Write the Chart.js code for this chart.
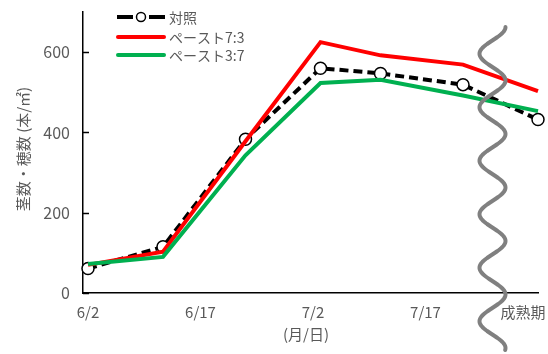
<!DOCTYPE html>
<html>
<head>
<meta charset="utf-8">
<script src="https://cdn.jsdelivr.net/npm/chart.js@4/dist/chart.umd.min.js"></script>
<style>
  html, body { margin: 0; padding: 0; background: #fff; }
  #wrap { width: 548px; height: 354px; }
</style>
</head>
<body>
<div id="wrap"><canvas id="c" width="548" height="354"></canvas></div>
<script>
// Days counted from 6/2
const sampleDays = [0, 10, 21, 31, 39, 50, 60];
const control   = [61, 115, 383, 560, 547, 519, 432];   // 対照
const paste73   = [70, 103, 378, 625, 592, 569, 503];   // ペースト7:3
const paste37   = [72, 90, 343, 523, 531, 492, 453];    // ペースト3:7
const seriesNames = ['対照', 'ペースト7:3', 'ペースト3:7'];

const xTickDays   = [0, 15, 30, 45, 58];
const xTickLabels = ['6/2', '6/17', '7/2', '7/17', '成熟期'];
const yTicks = [0, 200, 400, 600];

const FONT = '"Noto Sans CJK JP", "Noto Sans", sans-serif';
const GRAY_TEXT = '#595959';

const toPoints = vals => vals.map((v, i) => ({ x: sampleDays[i], y: v }));

// Inside tick marks on the value axis, legend, axis titles and the wavy break mark
const decorations = {
  id: 'decorations',
  afterDraw(chart) {
    const ctx = chart.ctx;
    const ys = chart.scales.y;
    const area = chart.chartArea;
    ctx.save();

    // tick marks pointing into the plot
    ctx.strokeStyle = '#000';
    ctx.lineWidth = 1.5;
    yTicks.forEach(v => {
      const py = Math.round(ys.getPixelForValue(v)) + 0.5;
      ctx.beginPath();
      ctx.moveTo(area.left, py);
      ctx.lineTo(area.left + 6, py);
      ctx.stroke();
    });

    // y axis title
    ctx.fillStyle = GRAY_TEXT;
    ctx.font = '15px ' + FONT;
    ctx.textAlign = 'center';
    ctx.textBaseline = 'middle';
    ctx.save();
    ctx.translate(23, 149);
    ctx.rotate(-Math.PI / 2);
    ctx.fillText('茎数・穂数 (本/㎡)', 0, 0);
    ctx.restore();

    // x axis title
    ctx.font = '15px ' + FONT;
    ctx.fillText('(月/日)', 306, 334);

    // legend
    const ds = chart.data.datasets;
    const rowsY = [17, 37, 55];
    const x0 = 117, x1 = 165;
    ds.forEach((d, i) => {
      const y = rowsY[i];
      ctx.save();
      ctx.strokeStyle = d.borderColor;
      ctx.lineWidth = d.borderWidth;
      ctx.lineCap = 'round';
      if (d.borderDash && d.borderDash.length) {
        ctx.lineCap = 'butt';
        ctx.beginPath();
        ctx.moveTo(x0, y); ctx.lineTo(x0 + 16, y);
        ctx.moveTo(x1 - 16, y); ctx.lineTo(x1, y);
        ctx.stroke();
        ctx.beginPath();
        ctx.arc((x0 + x1) / 2, y, 4.5, 0, Math.PI * 2);
        ctx.fillStyle = '#fff';
        ctx.fill();
        ctx.lineWidth = 1.5;
        ctx.strokeStyle = '#000';
        ctx.stroke();
      } else {
        ctx.beginPath();
        ctx.moveTo(x0 + 1, y); ctx.lineTo(x1 - 1, y);
        ctx.stroke();
      }
      ctx.restore();
      ctx.fillStyle = GRAY_TEXT;
      ctx.font = '14px ' + FONT;
      ctx.textAlign = 'left';
      ctx.textBaseline = 'middle';
      ctx.fillText(seriesNames[i], 169, y + 1);
    });

    // wavy break mark before maturity
    ctx.strokeStyle = '#808080';
    ctx.lineWidth = 4;
    ctx.lineCap = 'round';
    ctx.lineJoin = 'round';
    ctx.beginPath();
    const cx = 492.5, amp = 13, period = 53.5, yStart = 27, yEnd = 350;
    for (let y = yStart; y <= yEnd; y += 1) {
      const x = cx + amp * Math.cos(2 * Math.PI * (y - yStart) / period);
      if (y === yStart) ctx.moveTo(x, y); else ctx.lineTo(x, y);
    }
    ctx.stroke();

    ctx.restore();
  }
};

new Chart(document.getElementById('c'), {
  type: 'line',
  data: {
    datasets: [
      {
        label: seriesNames[0],
        data: toPoints(control),
        borderColor: '#000000',
        borderWidth: 4,
        borderDash: [9, 5],
        pointRadius: 6,
        pointBorderWidth: 1.5,
        pointBorderColor: '#000000',
        pointBackgroundColor: '#ffffff',
        tension: 0,
        clip: false,
        order: 3
      },
      {
        label: seriesNames[1],
        data: toPoints(paste73),
        borderColor: '#ff0000',
        borderWidth: 4,
        pointRadius: 0,
        tension: 0,
        clip: false,
        order: 2
      },
      {
        label: seriesNames[2],
        data: toPoints(paste37),
        borderColor: '#00b050',
        borderWidth: 4,
        pointRadius: 0,
        tension: 0,
        clip: false,
        order: 1
      }
    ]
  },
  options: {
    responsive: false,
    animation: false,
    events: [],
    layout: { padding: { top: 12, right: 10, left: 0, bottom: 0 } },
    plugins: { legend: { display: false }, tooltip: { enabled: false } },
    scales: {
      x: {
        type: 'linear',
        min: -0.667,
        max: 60,
        afterBuildTicks: scale => { scale.ticks = xTickDays.map(v => ({ value: v })); },
        afterFit: scale => {
          scale.height = 61;
          scale.paddingLeft = 0;
          scale.paddingRight = 0;
        },
        grid: { display: false, drawTicks: false },
        border: { display: true, color: '#000', width: 1.5 },
        ticks: {
          autoSkip: false,
          maxRotation: 0,
          padding: 10,
          color: GRAY_TEXT,
          font: { size: 15, family: FONT },
          callback: v => xTickLabels[xTickDays.indexOf(v)]
        }
      },
      y: {
        min: 0,
        max: 700,
        afterBuildTicks: scale => { scale.ticks = yTicks.map(v => ({ value: v })); },
        afterFit: scale => {
          scale.width = 83;
          scale.paddingTop = 0;
          scale.paddingBottom = 0;
        },
        grid: { display: false, drawTicks: false },
        border: { display: true, color: '#000', width: 1.5 },
        ticks: {
          padding: 13,
          color: GRAY_TEXT,
          font: { size: 16, family: FONT }
        }
      }
    }
  },
  plugins: [decorations]
});
</script>
</body>
</html>
